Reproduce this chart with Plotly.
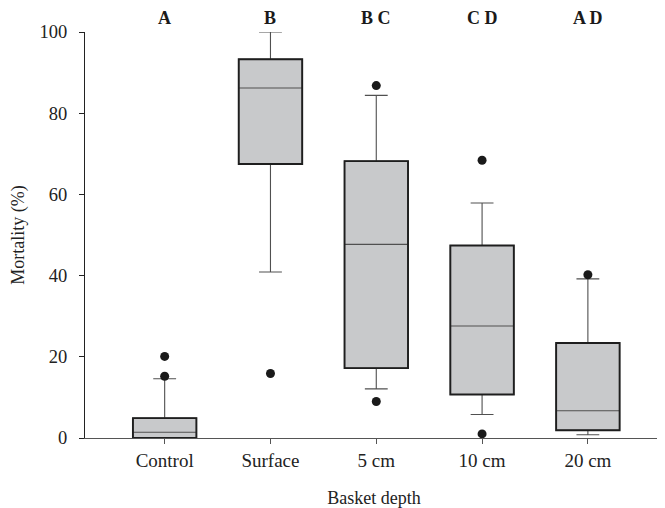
import plotly.graph_objects as go

categories = ["Control", "Surface", "5 cm", "10 cm", "20 cm"]
q1 = [0.0, 67.5, 17.2, 10.7, 1.9]
median = [1.4, 86.2, 47.7, 27.6, 6.7]
q3 = [4.9, 93.3, 68.2, 47.4, 23.4]
lower_whisker = [0.0, 40.9, 12.1, 5.8, 0.8]
upper_whisker = [14.6, 100.0, 84.4, 57.9, 39.2]
outlier_cats = ["Control", "Control", "Surface", "5 cm", "5 cm", "10 cm", "10 cm", "20 cm"]
outlier_vals = [20.1, 15.2, 15.9, 86.8, 9.0, 68.4, 1.0, 40.2]
group_letters = ["A", "B", "B C", "C D", "A D"]

FONT = "Liberation Serif, Times New Roman, serif"
XRANGE = [-0.753, 4.71]
YRANGE = [0, 100]

fig = go.Figure()
# box with thin grey whiskers / median
fig.add_trace(go.Box(
    x=categories, q1=q1, median=median, q3=q3,
    lowerfence=lower_whisker, upperfence=upper_whisker,
    boxpoints=False, width=0.6, whiskerwidth=0.36,
    fillcolor="#c8c9cb", line=dict(color="#505050", width=1.1),
    showlegend=False, hoverinfo="y",
))
# thick dark box outline drawn on an overlaid axis pair
fig.add_trace(go.Bar(
    x=categories, base=q1, y=[b - a for a, b in zip(q1, q3)], width=0.6,
    marker=dict(color="rgba(0,0,0,0)", line=dict(color="#1e1e1e", width=1.9)),
    xaxis="x2", yaxis="y2", showlegend=False, hoverinfo="skip",
))
fig.add_trace(go.Scatter(
    x=outlier_cats, y=outlier_vals, mode="markers",
    marker=dict(color="#1a1a1a", size=9), showlegend=False, cliponaxis=False,
    xaxis="x2", yaxis="y2",
))

for c, t in zip(categories, group_letters):
    fig.add_annotation(x=c, y=1.034, yref="paper", yanchor="middle", text="<b>%s</b>" % t,
                       showarrow=False, font=dict(family=FONT, size=18, color="#1a1a1a"))

# The page body has an 8 px margin, so the figure is 8 px smaller on each side.
fig.update_layout(
    width=657, height=500,
    margin=dict(l=77, r=2, t=24, b=70, autoexpand=False),
    plot_bgcolor="white", paper_bgcolor="white",
    font=dict(family=FONT, size=18, color="#222222"),
    xaxis=dict(
        categoryorder="array", categoryarray=categories,
        range=XRANGE,
        showline=True, linecolor="#555555", linewidth=1.2,
        ticks="outside", ticklen=5, tickcolor="#555555",
        showgrid=False, zeroline=False,
        tickfont=dict(size=19),
        title=dict(text="Basket depth", font=dict(size=18), standoff=22),
    ),
    yaxis=dict(
        range=YRANGE, tickvals=[0, 20, 40, 60, 80, 100],
        showline=True, linecolor="#222222", linewidth=1.2,
        ticks="outside", ticklen=5, tickcolor="#222222",
        showgrid=False, zeroline=False,
        tickfont=dict(size=18.5), ticklabelstandoff=8,
        title=dict(text="Mortality (%)", font=dict(size=18), standoff=21),
    ),
    xaxis2=dict(overlaying="x", categoryorder="array", categoryarray=categories,
                range=XRANGE, visible=False),
    yaxis2=dict(overlaying="y", range=YRANGE, visible=False),
)

fig.write_html("out.html")
